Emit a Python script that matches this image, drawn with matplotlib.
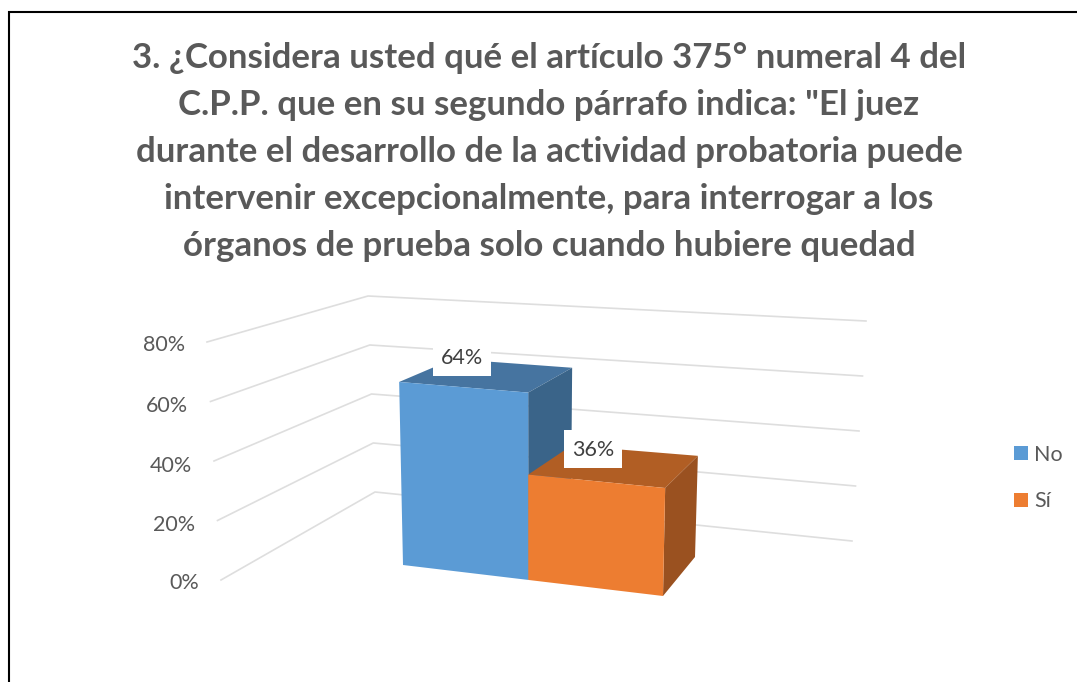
import numpy as np
import matplotlib

matplotlib.use("Agg")
import matplotlib.pyplot as plt
from matplotlib.patches import Patch, Polygon, Rectangle

TITLE = ('3. ¿Considera usted qué el artículo 375° numeral 4 del\n'
         'C.P.P. que en su segundo párrafo indica: "El juez\n'
         'durante el desarrollo de la actividad probatoria puede\n'
         'intervenir excepcionalmente, para interrogar a los\n'
         'órganos de prueba solo cuando hubiere quedad')

categories = ["No", "Sí"]
values = [64, 36]
value_ticks = [0, 20, 40, 60, 80]
tick_labels = ["0%", "20%", "40%", "60%", "80%"]

W, H = 1077, 682
TEXT = "#595959"
GRID = "#dedede"
FACE = {"No": "#5b9bd5", "Sí": "#ed7d31"}
TOP = {"No": "#4674a0", "Sí": "#b15e24"}
SIDE = {"No": "#3a6489", "Sí": "#9a5120"}

# bar volume corners in pixels, (x, depth, value), value 0 and 100%
BOX = {
    (0, 0, 0): (403, 565), (1, 0, 0): (663, 596),
    (0, 1, 0): (455, 535), (1, 1, 0): (695, 557),
    (0, 0, 1): (397, 279), (1, 0, 1): (669, 296),
    (0, 1, 1): (452, 260), (1, 1, 1): (703, 276),
}
BAR_EDGES = [0, 0.482, 1]

# wall gridline corners at 0 and 80%
WALL_0 = [(221, 580), (375, 492), (852, 541)]
WALL_80 = [(207, 342), (368, 296), (866, 321)]
LABEL_RIGHT = [199, 195, 192, 188, 185]
LABEL_Y = [583, 525, 466, 406, 345]


def project(x, d, v):
    # trilinear between the box corners
    v = v / 100
    p = np.zeros(2)
    for i in (0, 1):
        for j in (0, 1):
            for k in (0, 1):
                w = (x if i else 1 - x) * (d if j else 1 - d) * (v if k else 1 - v)
                p += w * np.array(BOX[(i, j, k)])
    return p


def draw_bar(ax, x0, x1, val, name):
    top = [project(x0, 0, val), project(x1, 0, val), project(x1, 1, val), project(x0, 1, val)]
    side = [project(x1, 0, 0), project(x1, 1, 0), project(x1, 1, val), project(x1, 0, val)]
    front = [project(x0, 0, 0), project(x1, 0, 0), project(x1, 0, val), project(x0, 0, val)]
    ax.add_patch(Polygon(top, fc=TOP[name], ec="none", zorder=3))
    ax.add_patch(Polygon(side, fc=SIDE[name], ec="none", zorder=3))
    ax.add_patch(Polygon(front, fc=FACE[name], ec="none", zorder=3))


plt.rcParams["font.family"] = ["Lato", "DejaVu Sans"]
fig = plt.figure(figsize=(W / 100, H / 100), dpi=100)
ax = fig.add_axes([0, 0, 1, 1])
ax.set_xlim(0, W)
ax.set_ylim(H, 0)
ax.axis("off")

# chart frame, cut by the image on the right and at the bottom
ax.plot([8.5, 8.5, W + 2], [H + 2, 11.5, 11.5], color="black", lw=1.5, solid_joinstyle="miter")

ax.text(549, 152, TITLE, ha="center", va="center", fontsize=25.1, fontweight="bold",
        color=TEXT, linespacing=1.57)

# gridlines and value labels
for n, tick in enumerate(value_ticks):
    f = tick / 80
    pts = [(a[0] + f * (b[0] - a[0]), a[1] + f * (b[1] - a[1])) for a, b in zip(WALL_0, WALL_80)]
    ax.plot(*zip(*pts), color=GRID, lw=1.2, zorder=1)
    ax.text(LABEL_RIGHT[n], LABEL_Y[n], tick_labels[n], ha="right", va="center", fontsize=15.5, color=TEXT)

for i, (name, val) in enumerate(zip(categories, values)):
    draw_bar(ax, BAR_EDGES[i], BAR_EDGES[i + 1], val, name)

# data labels sit on white boxes
for xc, yc, val in zip([462, 593], [357, 449], values):
    ax.add_patch(Rectangle((xc - 29, yc - 19), 58, 37.5, fc="white", ec="none", zorder=4))
    ax.text(xc, yc + 1, f"{val}%", ha="center", va="center", fontsize=15.5, color="#404040", zorder=5)

handles = [Patch(fc=FACE[c], ec="none", label=c) for c in categories]
ax.legend(handles=handles, loc="center left", bbox_to_anchor=(1014, 478), bbox_transform=ax.transData,
          frameon=False, fontsize=15.5, labelcolor=TEXT, handlelength=0.65, handleheight=0.65,
          handletextpad=0.27, labelspacing=1.25, borderaxespad=0, borderpad=0)

fig.savefig("out.png", dpi=100)
